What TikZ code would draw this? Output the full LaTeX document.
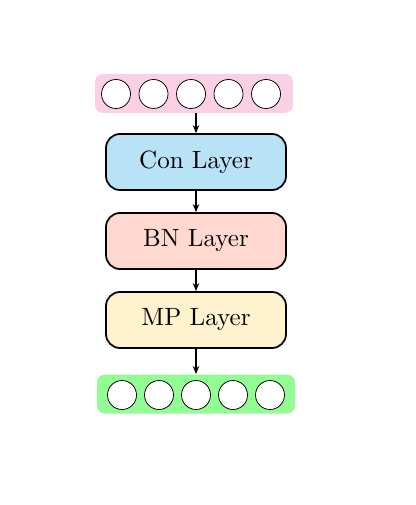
\documentclass[tikz,border=0pt]{standalone}
\usetikzlibrary{arrows.meta,backgrounds}
\definecolor{rowpink}{RGB}{252,208,228}
\definecolor{rowgreen}{RGB}{148,252,148}
\definecolor{conblue}{RGB}{186,226,247}
\definecolor{bnred}{RGB}{255,216,208}
\definecolor{mpyellow}{RGB}{255,242,206}
\tikzset{
  neuron/.style={circle,draw,line width=0.3pt,fill=white,minimum size=11.6pt,inner sep=0pt},
  rowbox/.style={rectangle,rounded corners=3.2pt,minimum width=79.2pt,minimum height=15.6pt,inner sep=0pt},
  layerbox/.style={rectangle,draw,line width=0.7pt,rounded corners=5.6pt,minimum width=72pt,minimum height=22.4pt,font=\normalsize},
  arr/.style={-{Stealth[length=3.2pt,width=2.6pt]},line width=0.6pt}
}
\begin{document}
\begin{tikzpicture}[x=0.4pt,y=-0.4pt]
\useasboundingbox (0,0) rectangle (415,505);
% top row
\foreach \i in {1,...,5} {
  \node[neuron] (t\i) at ({116+37.5*(\i-1)},94) {};
}
\begin{scope}[on background layer]
  \node[rowbox,fill=rowpink] (top) at (194,93.5) {};
\end{scope}
\node[layerbox,fill=conblue] (con) at (196,162) {Con Layer};
\node[layerbox,fill=bnred] (bn) at (196,241) {BN Layer};
\node[layerbox,fill=mpyellow] (mp) at (196,320) {MP Layer};
% bottom row
\foreach \i in {1,...,5} {
  \node[neuron] (b\i) at ({122+37*(\i-1)},395) {};
}
\begin{scope}[on background layer]
  \node[rowbox,fill=rowgreen] (bot) at (196,394) {};
\end{scope}
\draw[arr] (con.north |- top.south) -- (con.north);
\draw[arr] (con.south) -- (bn.north);
\draw[arr] (bn.south) -- (mp.north);
\draw[arr] (mp.south) -- (bot.north);
\end{tikzpicture}
\end{document}
